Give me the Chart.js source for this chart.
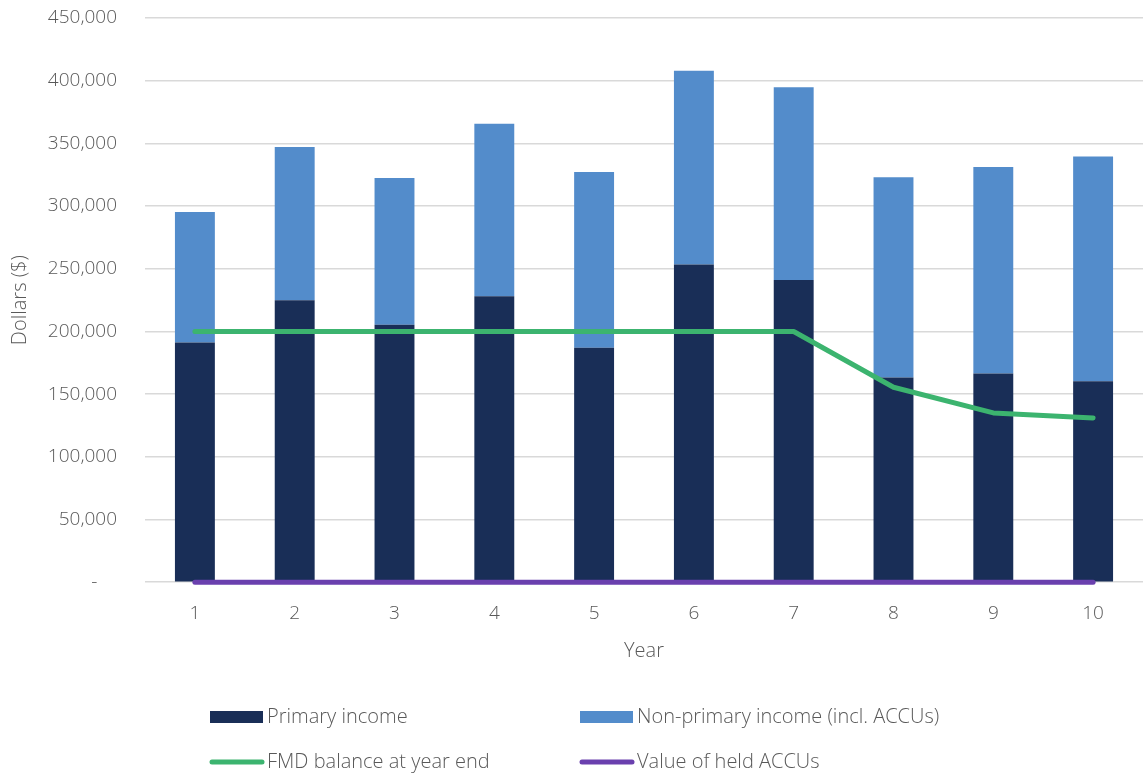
<!DOCTYPE html>
<html>
<head>
<meta charset="utf-8">
<script src="https://cdn.jsdelivr.net/npm/chart.js@4"></script>
<style>
  html, body { margin: 0; padding: 0; background: #ffffff; }
  #wrap { position: relative; width: 1143px; height: 776px; }
</style>
</head>
<body>
<div id="wrap"><canvas id="chart" width="1143" height="776"></canvas></div>
<script>
// Farm income scenario, years 1-10
const years = ['1', '2', '3', '4', '5', '6', '7', '8', '9', '10'];
const primaryIncome    = [191200, 224800, 205300, 228000, 187000, 253300, 241100, 163200, 166400, 160300];
const nonPrimaryIncome = [104100, 122400, 117100, 137600, 140200, 154700, 153600, 159700, 164800, 179200];
const fmdBalance       = [200000, 200000, 200000, 200000, 200000, 200000, 200000, 155500, 135000, 131000];
const heldAccuValue    = [0, 0, 0, 0, 0, 0, 0, 0, 0, 0];

const FONT = "'Open Sans', 'Noto Sans', sans-serif";
const WEIGHT = '300';
const TEXT = '#595959';

// Two-column legend drawn beneath the axes
const gridLegend = {
  id: 'gridLegend',
  afterDraw(chart) {
    const ctx = chart.ctx;
    const ds = chart.data.datasets;
    const slots = [
      { i: 0, x: 210, y: 717 },
      { i: 1, x: 580, y: 717 },
      { i: 2, x: 210, y: 762 },
      { i: 3, x: 580, y: 762 }
    ];
    ctx.save();
    ctx.font = WEIGHT + ' 20px ' + FONT;
    ctx.textBaseline = 'middle';
    slots.forEach(s => {
      const d = ds[s.i];
      if (d.type === 'line') {
        ctx.strokeStyle = d.borderColor;
        ctx.lineWidth = 5;
        ctx.lineCap = 'round';
        ctx.beginPath();
        ctx.moveTo(s.x + 2, s.y);
        ctx.lineTo(s.x + 52, s.y);
        ctx.stroke();
      } else {
        ctx.fillStyle = d.backgroundColor;
        ctx.fillRect(s.x, s.y - 6, 53, 12);
      }
      ctx.fillStyle = TEXT;
      ctx.fillText(d.label, s.x + 57, s.y);
    });
    ctx.restore();
  }
};

new Chart(document.getElementById('chart'), {
  data: {
    labels: years,
    datasets: [
      {
        type: 'bar', label: 'Primary income', data: primaryIncome,
        backgroundColor: '#192e57', stack: 'income', order: 2,
        barPercentage: 0.4, categoryPercentage: 1.0
      },
      {
        type: 'bar', label: 'Non-primary income (incl. ACCUs)', data: nonPrimaryIncome,
        backgroundColor: '#538ccb', stack: 'income', order: 2,
        barPercentage: 0.4, categoryPercentage: 1.0
      },
      {
        type: 'line', label: 'FMD balance at year end', data: fmdBalance,
        borderColor: '#3cb46f', backgroundColor: '#3cb46f', borderWidth: 5,
        pointRadius: 0, tension: 0, stack: 'fmd', order: 0, clip: 8,
        borderCapStyle: 'round', borderJoinStyle: 'round'
      },
      {
        type: 'line', label: 'Value of held ACCUs', data: heldAccuValue,
        borderColor: '#6a40ae', backgroundColor: '#6a40ae', borderWidth: 5,
        pointRadius: 0, tension: 0, stack: 'accu', order: 1, clip: 8,
        borderCapStyle: 'round', borderJoinStyle: 'round'
      }
    ]
  },
  options: {
    responsive: false,
    animation: false,
    layout: { padding: { top: 18, right: 0, left: 8, bottom: 105 } },
    plugins: {
      legend: { display: false },
      tooltip: { enabled: false }
    },
    scales: {
      x: {
        stacked: true,
        grid: { display: false, drawTicks: false },
        border: { display: false },
        ticks: { color: TEXT, font: { family: FONT, size: 19, weight: WEIGHT }, padding: 20 },
        title: { display: true, text: 'Year', color: TEXT, font: { family: FONT, size: 20, weight: WEIGHT }, padding: { top: -6, bottom: 8 } }
      },
      y: {
        stacked: true,
        min: 0, max: 450000,
        grid: { color: '#d9d9d9', lineWidth: 1.5, drawTicks: true, tickLength: 24, tickColor: 'rgba(0,0,0,0)' },
        border: { display: false },
        afterFit(scale) { scale.width = 137; },
        ticks: {
          stepSize: 50000,
          color: TEXT,
          font: { family: FONT, size: 19, weight: WEIGHT },
          padding: 4,
          callback: v => v === 0 ? '-    ' : v.toLocaleString('en-US')
        },
        title: { display: true, text: 'Dollars ($)', color: TEXT, font: { family: FONT, size: 20, weight: WEIGHT }, padding: { top: 0, bottom: 4 } }
      }
    }
  },
  plugins: [gridLegend]
});
</script>
</body>
</html>
